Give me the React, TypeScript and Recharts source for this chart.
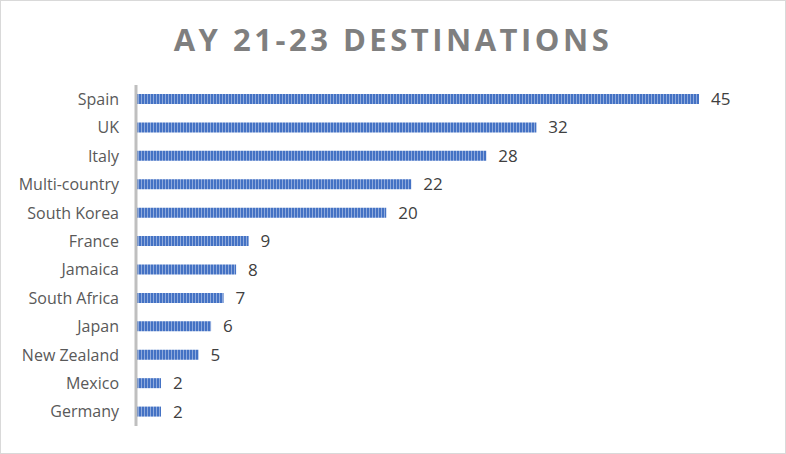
import { BarChart, Bar, XAxis, YAxis, LabelList } from 'recharts';

const countries = ['Spain', 'UK', 'Italy', 'Multi-country', 'South Korea', 'France', 'Jamaica', 'South Africa', 'Japan', 'New Zealand', 'Mexico', 'Germany'];
const students = [45, 32, 28, 22, 20, 9, 8, 7, 6, 5, 2, 2];

const data = countries.map((country, i) => ({ country, students: students[i] }));

export default function App() {
  return (
    <div
      style={{
        position: 'absolute',
        left: 0,
        top: 0,
        width: 786,
        height: 454,
        border: '1px solid #d9d9d9',
        boxSizing: 'border-box',
        background: '#fff',
        fontFamily: '"Open Sans", sans-serif',
      }}
    >
      <div
        style={{
          position: 'absolute',
          left: 0,
          top: 18,
          width: 784,
          textAlign: 'center',
          fontSize: 31,
          fontWeight: 700,
          letterSpacing: 3.5,
          color: '#7f7f7f',
          lineHeight: '40px',
        }}
      >
        AY 21-23 DESTINATIONS
      </div>
      <BarChart
        width={784}
        height={452}
        data={data}
        layout="vertical"
        margin={{ top: 84, right: 86, left: 0, bottom: 27 }}
        barCategoryGap={0}
      >
        <defs>
          <pattern id="stripes" width="3" height="10" patternUnits="userSpaceOnUse">
            <rect x="0" y="0" width="3" height="10" fill="#4472c4" />
            <rect x="2" y="0" width="1" height="10" fill="#8faadc" />
          </pattern>
        </defs>
        <XAxis type="number" domain={[0, 45]} hide />
        <YAxis
          type="category"
          dataKey="country"
          width={135}
          tickLine={false}
          tickMargin={11}
          axisLine={{ stroke: '#bfbfbf', strokeWidth: 3 }}
          tick={{ fontSize: 16, fill: '#595959' }}
          interval={0}
        />
        <Bar dataKey="students" fill="url(#stripes)" barSize={10} isAnimationActive={false}>
          <LabelList dataKey="students" position="right" offset={12} style={{ fontSize: 17, fill: '#404040' }} />
        </Bar>
      </BarChart>
    </div>
  );
}
